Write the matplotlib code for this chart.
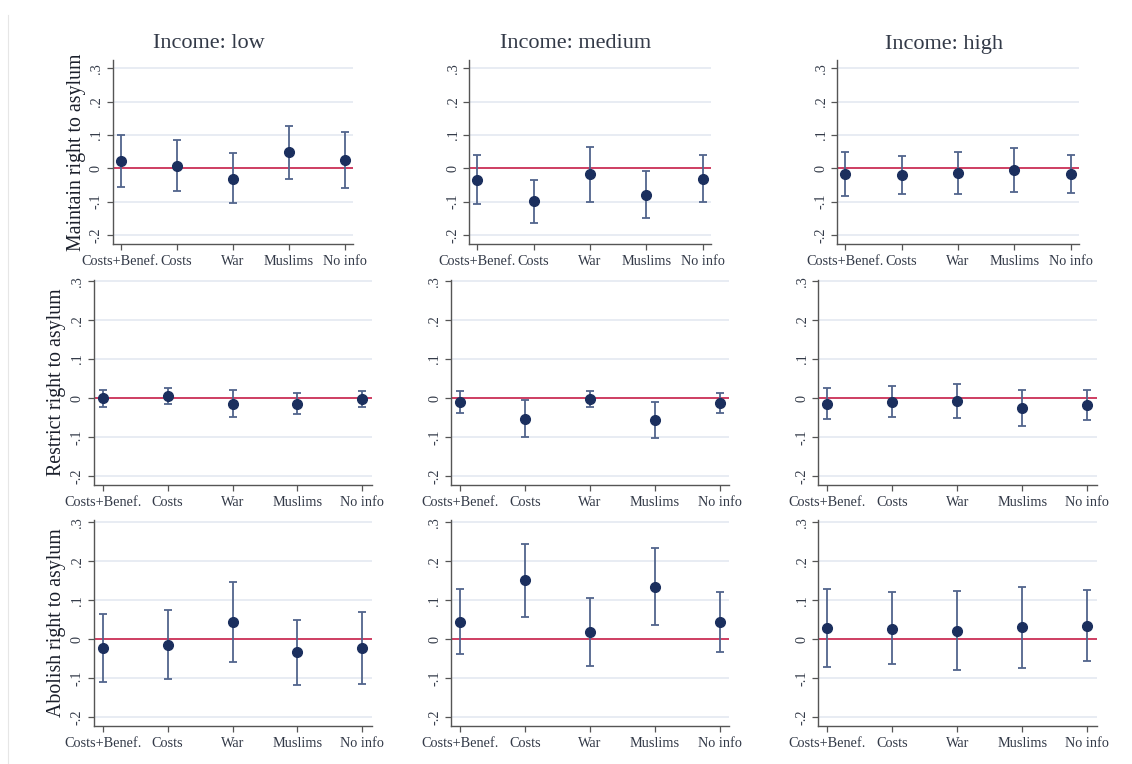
import matplotlib

matplotlib.use("Agg")
import matplotlib.pyplot as plt
from matplotlib.lines import Line2D
from matplotlib.ticker import FixedLocator, FuncFormatter

treatments = ["Costs+Benef.", "Costs", "War", "Muslims", "No info"]
incomes = ["low", "medium", "high"]
outcomes = ["Maintain right to asylum", "Restrict right to asylum", "Abolish right to asylum"]

# point estimates and 95% CI, one row per income group (low, medium, high)
maintain_est = [[0.022, 0.008, -0.031, 0.048, 0.024],
                [-0.036, -0.099, -0.018, -0.079, -0.033],
                [-0.016, -0.021, -0.015, -0.006, -0.017]]
maintain_lo = [[-0.057, -0.068, -0.104, -0.032, -0.059],
               [-0.108, -0.163, -0.100, -0.150, -0.102],
               [-0.082, -0.077, -0.078, -0.072, -0.075]]
maintain_hi = [[0.101, 0.085, 0.045, 0.128, 0.108],
               [0.039, -0.035, 0.065, -0.008, 0.039],
               [0.050, 0.037, 0.050, 0.061, 0.041]]

restrict_est = [[-0.001, 0.005, -0.014, -0.014, -0.003],
                [-0.009, -0.053, -0.002, -0.056, -0.012],
                [-0.014, -0.009, -0.008, -0.025, -0.018]]
restrict_lo = [[-0.023, -0.014, -0.049, -0.041, -0.024],
               [-0.038, -0.101, -0.022, -0.102, -0.037],
               [-0.054, -0.049, -0.051, -0.071, -0.056]]
restrict_hi = [[0.021, 0.026, 0.022, 0.013, 0.018],
               [0.017, -0.005, 0.019, -0.010, 0.013],
               [0.026, 0.032, 0.036, 0.020, 0.020]]

abolish_est = [[-0.022, -0.015, 0.043, -0.034, -0.022],
               [0.045, 0.151, 0.019, 0.135, 0.044],
               [0.029, 0.027, 0.021, 0.030, 0.035]]
abolish_lo = [[-0.110, -0.103, -0.059, -0.117, -0.114],
              [-0.039, 0.057, -0.068, 0.036, -0.034],
              [-0.071, -0.063, -0.080, -0.074, -0.056]]
abolish_hi = [[0.065, 0.075, 0.146, 0.049, 0.069],
              [0.130, 0.245, 0.106, 0.235, 0.122],
              [0.130, 0.120, 0.124, 0.135, 0.126]]

yticks = [-0.2, -0.1, 0, 0.1, 0.2, 0.3]

plt.rcParams["font.family"] = ["Liberation Serif", "DejaVu Serif"]

W, H = 1132, 764
fig = plt.figure(figsize=(W / 100, H / 100), dpi=100)
fig.patch.set_facecolor("white")

# panel boxes in pixels: (left, top, right, bottom)
col_x_top = [(112.7, 353), (469.3, 711), (837.3, 1079)]
col_x = [(93.7, 372), (451, 729.3), (818.3, 1097)]
row_y = [(60, 244), (280, 485), (520, 726)]
row_ylim = [(-0.227, 0.325), (-0.223, 0.303), (-0.223, 0.306)]
ylabel_x = [77, 57, 57]
title_x = [209, 576, 944]

dark = "#1b2f5e"
bar_col = "#52658c"
zero_col = "#cf3f63"
grid_col = "#e4e9f1"
spine_col = "#555555"
text_col = "#333a48"


def fmt(v, pos):
    if abs(v) < 1e-9:
        return "0"
    return f"{v:.1f}".replace("0.", ".")


data = [(maintain_est, maintain_lo, maintain_hi),
        (restrict_est, restrict_lo, restrict_hi),
        (abolish_est, abolish_lo, abolish_hi)]

x = list(range(1, len(treatments) + 1))

for r in range(3):
    est_all, lo_all, hi_all = data[r]
    for c in range(3):
        x0, x1 = col_x_top[c] if r == 0 else col_x[c]
        y0, y1 = row_y[r]
        ax = fig.add_axes([x0 / W, 1 - y1 / H, (x1 - x0) / W, (y1 - y0) / H])
        est = est_all[c]
        lo = lo_all[c]
        hi = hi_all[c]
        yerr = [[e - l for e, l in zip(est, lo)], [h - e for e, h in zip(est, hi)]]

        ax.axhline(0, color=zero_col, lw=1.4, zorder=2)
        ax.errorbar(x, est, yerr=yerr, fmt="none", ecolor=bar_col, elinewidth=1.3,
                    capsize=2.8, capthick=1.3, zorder=3)
        ax.plot(x, est, "o", color=dark, markersize=7, zorder=4)

        ax.set_xlim(0.86, 5.15)
        ax.set_ylim(*row_ylim[r])
        ax.yaxis.set_major_locator(FixedLocator(yticks))
        ax.yaxis.set_major_formatter(FuncFormatter(fmt))
        ax.set_xticks(x)
        ax.set_xticklabels(treatments)
        ax.grid(axis="y", color=grid_col, lw=1.2)
        ax.set_axisbelow(True)

        for s in ["top", "right"]:
            ax.spines[s].set_visible(False)
        for s in ["left", "bottom"]:
            ax.spines[s].set_color(spine_col)
            ax.spines[s].set_linewidth(1.0)
        ax.tick_params(axis="both", colors=spine_col, length=4, width=0.9,
                       labelcolor=text_col, labelsize=10.3)
        ax.tick_params(axis="y", labelrotation=90, pad=3)
        ax.tick_params(axis="x", pad=4)
        for lab in ax.get_yticklabels():
            lab.set_verticalalignment("center")

        if c == 0:
            fig.text(ylabel_x[r] / W, 1 - (y0 + y1) / 2 / H, outcomes[r], rotation=90,
                     ha="center", va="center", fontsize=14.3, color="#1a1f2b")
        if r == 0:
            fig.text(title_x[c] / W, 1 - 44 / H, f"Income: {incomes[c]}",
                     ha="center", va="center", fontsize=16, color=text_col)

# thin frame edge on the left
fig.add_artist(Line2D([8 / W, 8 / W], [0, 1 - 15 / H], transform=fig.transFigure,
                      color="#e6e6e6", lw=0.8))

fig.savefig("out.png", dpi=100)
